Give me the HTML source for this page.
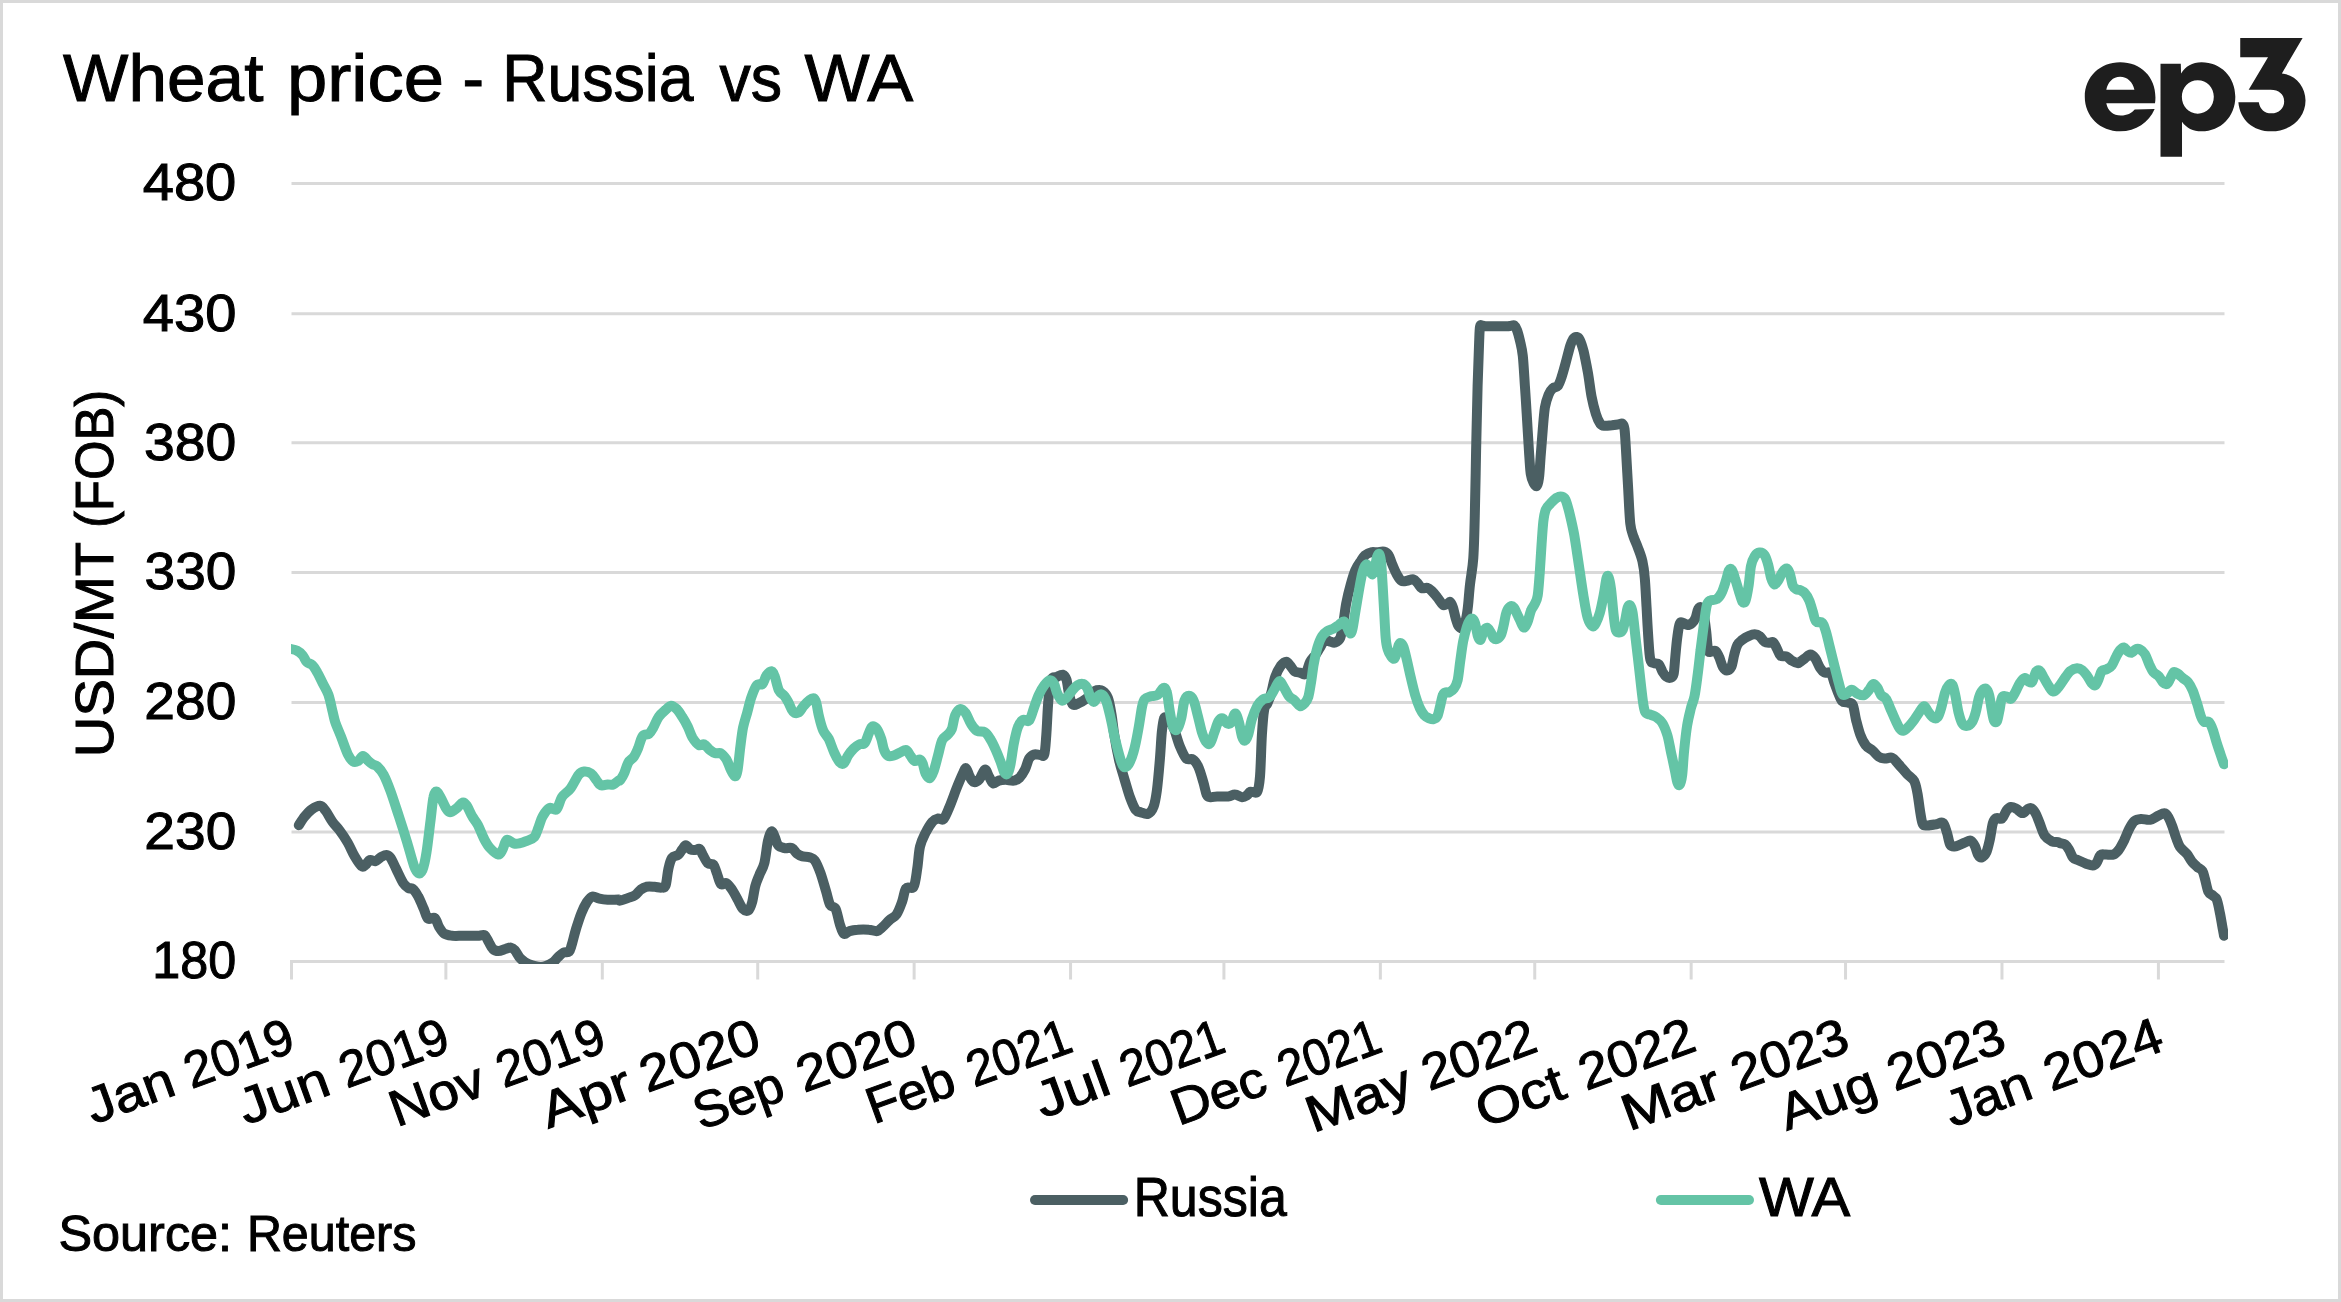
<!DOCTYPE html><html><head><meta charset="utf-8"><title>Wheat price - Russia vs WA</title>
<style>html,body{margin:0;padding:0;background:#fff}body{width:2341px;height:1302px}svg{display:block}text{font-family:"Liberation Sans",sans-serif;fill:#000;stroke:#000}</style></head><body>
<svg width="2341" height="1302" viewBox="0 0 2341 1302">
<rect x="0" y="0" width="2341" height="1302" fill="#fff"/>
<rect x="1.5" y="1.5" width="2338" height="1299" fill="none" stroke="#d9d9d9" stroke-width="3"/>
<line x1="291.5" y1="183.50" x2="2224.5" y2="183.50" stroke="#d9d9d9" stroke-width="3"/>
<line x1="291.5" y1="313.70" x2="2224.5" y2="313.70" stroke="#d9d9d9" stroke-width="3"/>
<line x1="291.5" y1="442.80" x2="2224.5" y2="442.80" stroke="#d9d9d9" stroke-width="3"/>
<line x1="291.5" y1="572.40" x2="2224.5" y2="572.40" stroke="#d9d9d9" stroke-width="3"/>
<line x1="291.5" y1="702.60" x2="2224.5" y2="702.60" stroke="#d9d9d9" stroke-width="3"/>
<line x1="291.5" y1="832.00" x2="2224.5" y2="832.00" stroke="#d9d9d9" stroke-width="3"/>
<line x1="290.0" y1="961.50" x2="2224.5" y2="961.50" stroke="#d9d9d9" stroke-width="3"/>
<line x1="291.50" y1="961.50" x2="291.50" y2="979.50" stroke="#d9d9d9" stroke-width="3"/>
<line x1="445.88" y1="961.50" x2="445.88" y2="979.50" stroke="#d9d9d9" stroke-width="3"/>
<line x1="602.31" y1="961.50" x2="602.31" y2="979.50" stroke="#d9d9d9" stroke-width="3"/>
<line x1="757.71" y1="961.50" x2="757.71" y2="979.50" stroke="#d9d9d9" stroke-width="3"/>
<line x1="914.14" y1="961.50" x2="914.14" y2="979.50" stroke="#d9d9d9" stroke-width="3"/>
<line x1="1070.57" y1="961.50" x2="1070.57" y2="979.50" stroke="#d9d9d9" stroke-width="3"/>
<line x1="1223.93" y1="961.50" x2="1223.93" y2="979.50" stroke="#d9d9d9" stroke-width="3"/>
<line x1="1380.35" y1="961.50" x2="1380.35" y2="979.50" stroke="#d9d9d9" stroke-width="3"/>
<line x1="1534.74" y1="961.50" x2="1534.74" y2="979.50" stroke="#d9d9d9" stroke-width="3"/>
<line x1="1691.16" y1="961.50" x2="1691.16" y2="979.50" stroke="#d9d9d9" stroke-width="3"/>
<line x1="1845.55" y1="961.50" x2="1845.55" y2="979.50" stroke="#d9d9d9" stroke-width="3"/>
<line x1="2001.97" y1="961.50" x2="2001.97" y2="979.50" stroke="#d9d9d9" stroke-width="3"/>
<line x1="2158.40" y1="961.50" x2="2158.40" y2="979.50" stroke="#d9d9d9" stroke-width="3"/>
<text transform="translate(142.70,200.30) scale(1.1000,1)" font-size="51" stroke-width="1.0" >480</text>
<text transform="translate(142.80,330.50) scale(1.1000,1)" font-size="51" stroke-width="1.0" >430</text>
<text transform="translate(144.12,459.60) scale(1.0843,1)" font-size="51" stroke-width="1.0" >380</text>
<text transform="translate(144.62,589.20) scale(1.0783,1)" font-size="51" stroke-width="1.0" >330</text>
<text transform="translate(144.34,719.40) scale(1.0817,1)" font-size="51" stroke-width="1.0" >280</text>
<text transform="translate(144.34,848.80) scale(1.0817,1)" font-size="51" stroke-width="1.0" >230</text>
<text transform="translate(152.34,978.30) scale(0.9864,1)" font-size="51" stroke-width="1.0" >180</text>
<text transform="translate(113.40,753.00) rotate(-90) translate(-4.14,0) scale(1.0360,1)" font-size="54.2" stroke-width="1.0" >USD/MT</text>
<text transform="translate(113.40,525.30) rotate(-90) translate(-2.82,0) scale(0.9387,1)" font-size="54.2" stroke-width="1.0" >(FOB)</text>
<text transform="translate(178.00,1093.81) rotate(-20) scale(1.0930,1)" font-size="51" stroke-width="1.0" text-anchor="end">Jan</text>
<text transform="translate(297.40,1050.35) rotate(-20) scale(0.9939,1)" font-size="51" stroke-width="1.0" text-anchor="end">2019</text>
<text transform="translate(333.00,1093.59) rotate(-20) scale(1.1288,1)" font-size="51" stroke-width="1.0" text-anchor="end">Jun</text>
<text transform="translate(452.60,1050.06) rotate(-20) scale(0.9936,1)" font-size="51" stroke-width="1.0" text-anchor="end">2019</text>
<text transform="translate(488.40,1093.96) rotate(-20) scale(1.0761,1)" font-size="51" stroke-width="1.0" text-anchor="end">Nov</text>
<text transform="translate(608.60,1050.21) rotate(-20) scale(0.9833,1)" font-size="51" stroke-width="1.0" text-anchor="end">2019</text>
<text transform="translate(635.20,1097.09) rotate(-20) scale(1.1648,1)" font-size="51" stroke-width="1.0" text-anchor="end">Apr</text>
<text transform="translate(763.60,1050.36) rotate(-20) scale(1.0906,1)" font-size="51" stroke-width="1.0" text-anchor="end">2020</text>
<text transform="translate(787.60,1098.56) rotate(-20) scale(1.0184,1)" font-size="51" stroke-width="1.0" text-anchor="end">Sep</text>
<text transform="translate(920.20,1050.30) rotate(-20) scale(1.0911,1)" font-size="51" stroke-width="1.0" text-anchor="end">2020</text>
<text transform="translate(958.80,1093.18) rotate(-20) scale(1.0310,1)" font-size="51" stroke-width="1.0" text-anchor="end">Feb</text>
<text transform="translate(1075.20,1050.82) rotate(-20) scale(0.9469,1)" font-size="51" stroke-width="1.0" text-anchor="end">2021</text>
<text transform="translate(1113.40,1092.73) rotate(-20) scale(1.1590,1)" font-size="51" stroke-width="1.0" text-anchor="end">Jul</text>
<text transform="translate(1228.00,1051.02) rotate(-20) scale(0.9429,1)" font-size="51" stroke-width="1.0" text-anchor="end">2021</text>
<text transform="translate(1270.00,1092.67) rotate(-20) scale(1.0748,1)" font-size="51" stroke-width="1.0" text-anchor="end">Dec</text>
<text transform="translate(1384.60,1050.96) rotate(-20) scale(0.9322,1)" font-size="51" stroke-width="1.0" text-anchor="end">2021</text>
<text transform="translate(1415.60,1095.86) rotate(-20) scale(1.1304,1)" font-size="51" stroke-width="1.0" text-anchor="end">May</text>
<text transform="translate(1540.00,1050.59) rotate(-20) scale(1.0402,1)" font-size="51" stroke-width="1.0" text-anchor="end">2022</text>
<text transform="translate(1568.80,1097.04) rotate(-20) scale(1.1466,1)" font-size="51" stroke-width="1.0" text-anchor="end">Oct</text>
<text transform="translate(1698.60,1049.80) rotate(-20) scale(1.0551,1)" font-size="51" stroke-width="1.0" text-anchor="end">2022</text>
<text transform="translate(1724.60,1096.52) rotate(-20) scale(1.1581,1)" font-size="51" stroke-width="1.0" text-anchor="end">Mar</text>
<text transform="translate(1852.20,1050.08) rotate(-20) scale(1.0651,1)" font-size="51" stroke-width="1.0" text-anchor="end">2023</text>
<text transform="translate(1880.20,1096.82) rotate(-20) scale(1.0961,1)" font-size="51" stroke-width="1.0" text-anchor="end">Aug</text>
<text transform="translate(2008.80,1050.02) rotate(-20) scale(1.0702,1)" font-size="51" stroke-width="1.0" text-anchor="end">2023</text>
<text transform="translate(2035.60,1097.20) rotate(-20) scale(1.0787,1)" font-size="51" stroke-width="1.0" text-anchor="end">Jan</text>
<text transform="translate(2166.40,1049.59) rotate(-20) scale(1.0800,1)" font-size="51" stroke-width="1.0" text-anchor="end">2024</text>
<clipPath id="cp"><rect x="291" y="100" width="1937" height="864.0"/></clipPath>
<g clip-path="url(#cp)" fill="none" stroke-width="10" stroke-linecap="round" stroke-linejoin="round">
<path d="M298.8,825.2C299.8,823.7 302.7,818.9 304.9,816.3C307.1,813.7 309.3,811.2 311.8,809.4C314.3,807.6 317.8,805.6 320.1,805.8C322.4,806.0 323.5,808.1 325.6,810.8C327.7,813.5 330.2,818.6 332.5,821.8C334.8,825.1 336.9,826.7 339.4,830.1C342.0,833.6 345.2,838.2 347.7,842.6C350.3,847.0 352.3,852.5 354.7,856.4C357.0,860.3 359.7,864.7 361.6,866.1C363.4,867.5 364.3,865.7 365.7,864.7C367.1,863.7 368.2,860.6 369.9,860.0C371.5,859.4 373.5,861.6 375.4,861.1C377.2,860.6 379.1,858.2 380.9,857.2C382.8,856.2 384.8,854.9 386.5,855.0C388.1,855.1 389.0,855.5 390.6,857.8C392.2,860.1 394.1,864.7 396.1,868.8C398.2,873.0 401.0,879.4 403.0,882.7C405.1,885.9 407.0,887.2 408.6,888.2C410.2,889.2 411.1,887.4 412.7,888.8C414.3,890.1 416.4,893.1 418.2,896.5C420.1,899.9 422.2,905.3 423.8,908.9C425.4,912.6 426.1,917.1 427.9,918.6C429.8,920.1 433.0,916.7 434.8,918.1C436.7,919.4 437.4,924.3 439.0,926.9C440.6,929.5 442.2,932.3 444.5,933.8C446.8,935.3 449.8,935.4 452.8,935.8C455.8,936.1 459.0,935.8 462.5,935.8C465.9,935.8 470.8,935.8 473.5,935.8C476.3,935.8 477.2,935.8 479.1,935.8C480.9,935.7 483.0,934.1 484.6,935.2C486.2,936.3 487.4,939.8 488.8,942.1C490.1,944.4 491.3,947.6 492.9,949.0C494.5,950.5 496.4,951.0 498.4,951.0C500.5,951.0 503.3,949.6 505.3,949.0C507.4,948.5 509.3,947.4 510.9,947.6C512.5,947.9 513.4,948.6 515.0,950.4C516.6,952.3 518.2,956.4 520.6,958.7C522.9,961.0 525.4,962.9 528.8,964.2C532.3,965.6 537.4,967.2 541.3,967.0C545.2,966.8 549.6,964.5 552.3,962.9C555.1,961.2 556.0,959.0 557.9,957.3C559.7,955.6 561.6,953.5 563.4,952.6C565.3,951.7 567.6,953.1 568.9,951.8C570.3,950.5 570.6,948.6 571.7,944.9C572.9,941.2 574.2,935.0 575.8,929.7C577.5,924.4 579.5,917.7 581.4,913.1C583.2,908.5 585.1,904.8 586.9,902.0C588.8,899.3 590.4,897.0 592.4,896.5C594.5,895.9 596.8,898.2 599.4,898.7C601.9,899.3 604.4,899.7 607.6,899.8C610.9,900.0 616.6,899.4 618.7,899.5C620.8,899.7 618.4,900.9 620.0,900.6C621.6,900.4 625.8,898.8 628.3,897.9C630.8,897.0 633.1,896.5 635.2,895.1C637.3,893.7 638.9,891.0 640.7,889.6C642.6,888.2 644.0,887.3 646.3,886.8C648.6,886.4 652.0,886.7 654.6,886.8C657.1,887.0 659.6,887.9 661.5,887.6C663.3,887.4 664.5,888.6 665.6,885.4C666.8,882.3 667.3,873.5 668.4,868.8C669.4,864.2 670.4,860.1 672.0,857.8C673.6,855.5 676.4,856.4 678.1,855.0C679.8,853.6 680.9,851.1 682.2,849.5C683.5,847.9 684.4,845.3 685.8,845.3C687.2,845.3 688.9,848.7 690.5,849.5C692.1,850.3 693.7,850.1 695.2,850.0C696.7,850.0 698.3,848.1 699.6,848.9C700.9,849.8 701.6,852.6 702.9,855.0C704.3,857.4 706.2,861.7 707.9,863.3C709.7,864.9 712.0,863.1 713.5,864.7C714.9,866.3 715.5,869.8 716.8,873.0C718.0,876.2 719.3,882.3 720.9,884.1C722.5,885.8 724.6,882.3 726.5,883.2C728.3,884.1 730.1,886.9 732.0,889.6C733.8,892.3 735.7,896.0 737.5,899.3C739.4,902.5 741.2,907.1 743.0,908.9C744.9,910.8 747.0,911.5 748.6,910.3C750.1,909.2 751.0,906.2 752.2,902.0C753.3,897.9 754.2,890.0 755.5,885.4C756.7,880.8 758.2,878.1 759.6,874.4C761.1,870.7 762.9,868.8 764.3,863.3C765.7,857.8 766.7,846.5 767.9,841.2C769.1,835.9 770.4,832.2 771.5,831.5C772.7,830.8 773.7,834.7 774.8,837.0C775.9,839.4 776.5,843.5 778.2,845.3C779.8,847.2 782.2,847.6 784.5,848.1C786.8,848.6 789.9,847.2 792.0,848.1C794.1,849.0 795.2,852.3 797.0,853.6C798.7,855.0 800.4,855.8 802.5,856.4C804.6,857.0 807.3,856.5 809.4,857.2C811.5,857.9 813.1,857.9 814.9,860.6C816.8,863.2 818.6,867.9 820.5,873.0C822.3,878.1 824.4,885.7 826.0,891.0C827.6,896.3 828.5,901.8 830.1,904.8C831.7,907.8 834.1,905.7 835.7,908.9C837.3,912.2 838.4,920.0 839.8,924.1C841.2,928.3 842.3,932.7 844.0,933.8C845.6,935.0 847.2,931.7 849.5,931.1C851.8,930.4 854.6,929.9 857.8,929.7C861.0,929.4 865.6,929.4 868.8,929.7C872.1,929.9 874.8,931.5 877.1,931.1C879.4,930.6 880.6,928.8 882.7,926.9C884.7,925.1 887.3,922.1 889.6,920.0C891.9,917.9 894.4,917.5 896.5,914.5C898.6,911.5 900.4,906.4 902.0,902.0C903.6,897.6 904.2,890.7 906.2,888.2C908.1,885.7 911.8,890.0 913.6,886.8C915.5,883.6 916.2,875.5 917.2,868.8C918.3,862.2 918.6,852.7 920.0,846.7C921.4,840.7 923.5,837.0 925.5,832.9C927.6,828.8 930.4,824.2 932.4,821.8C934.5,819.4 936.1,819.0 938.0,818.5C939.8,818.1 941.7,820.8 943.5,819.1C945.3,817.3 947.0,812.9 949.0,808.0C951.1,803.2 953.7,795.8 955.9,790.0C958.2,784.3 961.1,777.4 962.8,773.7C964.5,770.1 964.9,767.7 966.1,768.2C967.2,768.7 968.4,774.2 969.7,776.5C971.0,778.8 972.2,781.6 973.8,782.0C975.4,782.5 977.5,781.3 979.4,779.3C981.2,777.2 983.3,770.0 984.9,769.6C986.5,769.1 987.6,774.2 989.0,776.5C990.4,778.8 991.6,782.7 993.2,783.4C994.8,784.1 996.6,781.2 998.7,780.6C1000.8,780.0 1003.1,779.8 1005.6,779.8C1008.2,779.8 1011.6,781.0 1013.9,780.6C1016.2,780.3 1017.6,779.7 1019.4,777.9C1021.3,776.0 1023.4,772.8 1025.0,769.6C1026.6,766.4 1027.6,761.1 1029.1,758.5C1030.6,756.0 1032.3,755.0 1034.1,754.4C1035.9,753.8 1038.5,754.9 1040.2,754.9C1041.9,754.9 1043.3,757.7 1044.3,754.4C1045.3,751.1 1045.6,744.2 1046.3,735.0C1047.0,725.8 1047.6,708.3 1048.5,699.1C1049.3,689.9 1049.9,683.4 1051.2,679.7C1052.6,676.0 1054.8,677.8 1056.8,677.0C1058.7,676.1 1061.2,674.3 1062.9,674.7C1064.5,675.2 1065.4,676.4 1066.5,679.7C1067.5,683.1 1068.2,690.8 1069.2,694.9C1070.3,699.1 1071.2,703.2 1072.8,704.6C1074.4,706.0 1076.7,704.1 1078.9,703.2C1081.1,702.3 1083.7,700.7 1085.8,699.1C1087.9,697.5 1089.5,695.0 1091.3,693.5C1093.2,692.1 1095.0,690.7 1096.9,690.2C1098.7,689.8 1100.6,689.5 1102.4,690.8C1104.2,692.0 1106.4,693.8 1107.9,697.7C1109.4,701.6 1110.5,708.1 1111.5,714.3C1112.6,720.5 1113.0,727.4 1114.3,735.0C1115.5,742.6 1117.3,752.5 1119.0,759.9C1120.7,767.3 1122.7,773.0 1124.5,779.3C1126.4,785.5 1128.2,792.2 1130.0,797.2C1131.9,802.3 1133.7,807.1 1135.6,809.7C1137.4,812.2 1139.0,811.7 1141.1,812.4C1143.2,813.1 1145.9,814.7 1148.0,813.8C1150.1,812.9 1152.1,810.8 1153.5,806.9C1155.0,803.0 1155.9,797.7 1156.9,790.3C1157.9,782.9 1158.8,772.3 1159.6,762.7C1160.5,753.0 1161.1,739.6 1161.8,732.3C1162.6,724.9 1163.2,720.7 1164.1,718.4C1164.9,716.1 1165.8,718.0 1166.8,718.4C1167.8,718.9 1168.9,719.4 1170.1,721.2C1171.4,723.0 1172.7,725.3 1174.3,729.5C1175.9,733.6 1177.8,741.2 1179.8,746.1C1181.8,750.9 1184.0,756.3 1186.2,758.5C1188.3,760.7 1190.8,758.0 1192.8,759.4C1194.8,760.7 1196.6,763.0 1198.3,766.8C1200.1,770.6 1201.9,777.4 1203.3,782.0C1204.7,786.6 1205.5,791.9 1206.6,794.5C1207.8,797.0 1208.5,796.9 1210.2,797.2C1212.0,797.6 1214.1,796.5 1217.1,796.4C1220.1,796.3 1225.2,796.7 1228.2,796.4C1231.2,796.1 1232.8,794.3 1235.1,794.5C1237.4,794.6 1240.0,797.1 1242.0,797.2C1244.0,797.4 1245.6,796.2 1247.0,795.3C1248.4,794.4 1248.6,792.3 1250.3,791.7C1252.0,791.1 1255.6,794.2 1257.2,791.7C1258.8,789.2 1259.2,785.9 1260.0,776.5C1260.8,767.0 1261.2,746.1 1261.9,735.0C1262.6,724.0 1263.2,715.4 1264.1,710.1C1265.1,704.8 1266.3,706.0 1267.5,703.2C1268.6,700.5 1269.8,697.9 1271.1,693.5C1272.3,689.2 1273.6,681.6 1275.2,677.0C1276.8,672.3 1278.9,668.4 1280.7,665.9C1282.6,663.4 1284.7,661.7 1286.3,661.7C1287.9,661.7 1289.0,664.3 1290.4,665.9C1291.8,667.5 1293.0,670.3 1294.6,671.4C1296.2,672.5 1298.2,672.2 1300.0,672.6C1301.8,673.0 1303.8,675.7 1305.5,673.9C1307.2,672.1 1308.4,665.2 1310.1,661.9C1311.8,658.7 1314.0,657.0 1315.7,654.6C1317.4,652.1 1318.7,649.6 1320.3,647.2C1321.8,644.7 1323.2,640.7 1324.9,639.8C1326.6,638.9 1328.7,641.2 1330.4,641.7C1332.1,642.1 1333.4,643.2 1335.0,642.6C1336.7,642.0 1338.8,641.2 1340.2,638.0C1341.6,634.7 1342.3,629.1 1343.3,623.2C1344.3,617.4 1345.0,609.4 1346.3,602.9C1347.5,596.5 1349.2,589.9 1350.7,584.5C1352.2,579.1 1353.5,574.5 1355.1,570.7C1356.7,566.9 1358.7,564.1 1360.5,561.5C1362.2,558.9 1363.7,556.6 1365.4,555.0C1367.2,553.5 1369.0,552.7 1371.0,552.3C1373.0,551.8 1375.3,552.4 1377.4,552.3C1379.6,552.2 1382.0,551.2 1383.9,551.7C1385.7,552.2 1387.1,552.9 1388.5,555.0C1389.9,557.1 1390.8,561.0 1392.2,564.2C1393.5,567.5 1395.2,571.6 1396.8,574.4C1398.3,577.1 1399.7,579.8 1401.4,580.8C1403.1,581.9 1404.9,581.1 1406.9,580.8C1408.9,580.6 1411.5,578.9 1413.4,579.4C1415.2,579.8 1416.6,582.1 1418.0,583.6C1419.4,585.1 1420.1,587.5 1421.7,588.2C1423.2,588.9 1425.5,587.4 1427.2,587.8C1428.9,588.3 1430.1,589.4 1431.8,591.0C1433.5,592.6 1435.5,595.1 1437.3,597.4C1439.2,599.7 1441.2,603.7 1442.9,604.8C1444.5,605.9 1446.2,604.3 1447.5,603.9C1448.7,603.4 1449.3,601.4 1450.2,602.0C1451.2,602.6 1452.1,604.8 1453.0,607.6C1453.9,610.3 1454.8,615.5 1455.8,618.6C1456.7,621.7 1457.5,624.5 1458.5,626.0C1459.6,627.5 1461.1,628.3 1462.2,627.8C1463.3,627.4 1464.1,626.5 1465.0,623.2C1465.9,620.0 1466.9,614.9 1467.7,608.5C1468.6,602.0 1469.0,592.9 1470.0,584.5C1470.9,576.1 1472.5,569.6 1473.3,558.1C1474.1,546.5 1474.4,533.0 1474.8,515.1C1475.3,497.1 1475.7,472.0 1476.1,450.5C1476.6,429.0 1477.1,403.9 1477.6,386.0C1478.1,368.1 1478.7,352.9 1479.1,343.0C1479.5,333.2 1479.5,329.8 1480.0,326.9C1480.5,323.9 1480.9,325.5 1481.9,325.4C1483.0,325.3 1483.9,326.1 1486.2,326.2C1488.6,326.4 1492.5,326.2 1495.9,326.2C1499.3,326.2 1504.2,326.3 1506.7,326.2C1509.2,326.2 1509.7,325.9 1511.0,325.8C1512.2,325.7 1513.2,324.7 1514.2,325.4C1515.2,326.1 1516.0,327.5 1517.0,330.1C1518.0,332.7 1519.0,336.6 1520.0,340.9C1521.0,345.2 1522.0,348.4 1522.8,355.9C1523.6,363.4 1524.2,375.3 1524.9,386.0C1525.7,396.8 1526.4,409.0 1527.1,420.4C1527.8,431.9 1528.6,445.9 1529.2,454.8C1529.9,463.8 1530.0,469.5 1530.8,474.2C1531.5,478.9 1532.5,480.8 1533.5,482.8C1534.6,484.8 1535.9,486.7 1536.8,486.0C1537.7,485.3 1538.3,483.3 1538.9,478.5C1539.6,473.7 1540.0,465.2 1540.6,457.0C1541.3,448.7 1542.1,437.3 1542.8,429.0C1543.5,420.8 1544.0,413.3 1544.9,407.5C1545.9,401.8 1547.3,397.8 1548.6,394.6C1549.9,391.4 1551.4,389.6 1552.9,388.2C1554.4,386.7 1556.4,387.8 1557.8,386.0C1559.3,384.2 1560.2,381.4 1561.5,377.4C1562.8,373.5 1564.4,367.6 1565.8,362.4C1567.2,357.2 1568.9,350.2 1570.1,346.2C1571.4,342.3 1572.3,340.3 1573.3,338.7C1574.4,337.2 1575.5,336.8 1576.6,337.0C1577.6,337.2 1578.6,337.3 1579.8,339.8C1581.0,342.2 1582.3,346.1 1583.7,351.6C1585.0,357.2 1586.6,365.6 1588.0,373.1C1589.3,380.6 1590.3,390.0 1591.6,396.8C1592.9,403.6 1594.5,409.5 1595.9,414.0C1597.3,418.5 1598.8,421.7 1600.2,423.7C1601.6,425.6 1602.5,425.6 1604.5,425.8C1606.5,426.1 1609.7,425.4 1612.0,425.2C1614.4,424.9 1616.8,424.6 1618.5,424.3C1620.2,424.1 1621.4,422.9 1622.4,423.7C1623.4,424.4 1623.9,424.6 1624.5,429.0C1625.1,433.5 1625.4,440.5 1626.0,450.5C1626.6,460.6 1627.5,477.1 1628.2,489.2C1628.9,501.4 1629.4,515.8 1630.3,523.7C1631.2,531.5 1632.3,532.6 1633.5,536.6C1634.8,540.5 1636.4,543.2 1637.8,547.3C1639.3,551.4 1641.2,555.9 1642.4,561.1C1643.6,566.3 1644.2,570.5 1644.8,578.3C1645.5,586.1 1646.0,598.0 1646.6,607.8C1647.1,617.6 1647.7,628.7 1648.3,637.3C1648.9,645.9 1649.3,655.1 1650.3,659.4C1651.2,663.7 1652.5,662.3 1653.9,663.1C1655.4,663.9 1657.4,662.9 1658.9,664.3C1660.3,665.8 1661.3,669.6 1662.5,671.7C1663.8,673.7 1664.9,675.6 1666.2,676.6C1667.5,677.6 1669.2,678.2 1670.4,677.8C1671.6,677.4 1672.8,677.6 1673.6,674.2C1674.4,670.7 1674.7,663.1 1675.3,656.9C1675.9,650.8 1676.5,642.8 1677.3,637.3C1678.0,631.8 1678.7,626.1 1679.7,623.8C1680.8,621.4 1682.2,622.8 1683.4,623.0C1684.7,623.2 1685.7,625.0 1687.1,625.0C1688.6,625.0 1690.6,624.3 1692.0,623.0C1693.5,621.8 1694.7,620.0 1695.7,617.6C1696.7,615.3 1697.2,610.7 1698.2,609.0C1699.1,607.4 1700.3,606.4 1701.4,607.8C1702.4,609.2 1703.5,613.5 1704.3,617.6C1705.1,621.7 1705.7,627.0 1706.3,632.4C1706.9,637.7 1707.3,646.3 1708.0,649.6C1708.7,652.9 1709.2,651.8 1710.5,652.0C1711.7,652.2 1713.9,650.0 1715.4,650.8C1716.8,651.6 1717.8,654.3 1719.1,656.9C1720.3,659.6 1721.4,664.5 1722.8,666.8C1724.1,669.0 1725.5,670.5 1726.9,670.5C1728.4,670.5 1730.1,669.4 1731.4,666.8C1732.6,664.1 1733.3,658.2 1734.3,654.5C1735.3,650.8 1736.1,647.1 1737.5,644.7C1738.8,642.2 1740.6,641.2 1742.4,639.7C1744.3,638.3 1746.5,637.0 1748.6,636.1C1750.6,635.2 1752.9,634.3 1754.7,634.3C1756.5,634.3 1758.0,634.8 1759.6,636.1C1761.3,637.3 1762.9,640.6 1764.5,641.7C1766.2,642.8 1768.0,642.6 1769.4,642.7C1770.9,642.8 1771.9,641.3 1773.1,642.2C1774.4,643.1 1775.6,646.1 1776.8,648.3C1778.0,650.6 1778.9,654.4 1780.5,655.7C1782.1,657.1 1784.8,655.6 1786.7,656.5C1788.5,657.3 1789.7,659.5 1791.6,660.6C1793.4,661.7 1796.3,662.9 1797.7,663.1C1799.1,663.3 1798.8,662.8 1800.0,662.0C1801.2,661.2 1803.2,659.5 1804.9,658.3C1806.6,657.1 1808.6,654.6 1810.3,654.6C1812.0,654.6 1813.6,656.1 1815.2,658.3C1816.9,660.6 1818.6,665.8 1820.2,668.1C1821.7,670.5 1822.8,671.7 1824.6,672.6C1826.3,673.4 1829.1,671.3 1830.7,673.0C1832.4,674.8 1833.2,679.6 1834.4,682.9C1835.6,686.2 1836.8,689.6 1838.1,692.7C1839.4,695.8 1840.6,699.7 1842.3,701.3C1843.9,703.0 1846.2,701.9 1847.9,702.5C1849.7,703.2 1851.5,702.1 1852.8,705.0C1854.2,707.9 1854.8,714.8 1856.0,719.7C1857.3,724.7 1858.6,730.2 1860.2,734.5C1861.8,738.8 1863.8,742.9 1865.9,745.5C1867.9,748.2 1870.4,748.6 1872.5,750.5C1874.6,752.3 1876.6,755.3 1878.6,756.6C1880.7,758.0 1882.5,758.4 1884.8,758.6C1887.0,758.8 1889.9,756.9 1892.2,757.8C1894.4,758.7 1895.8,761.3 1898.3,764.0C1900.8,766.6 1904.2,770.9 1906.9,773.8C1909.6,776.7 1912.5,777.9 1914.3,781.2C1916.0,784.5 1916.4,788.1 1917.5,793.5C1918.5,798.8 1919.5,808.0 1920.4,813.1C1921.3,818.3 1921.7,822.1 1922.9,824.2C1924.1,826.2 1925.5,825.4 1927.8,825.4C1930.0,825.4 1933.9,824.6 1936.4,824.2C1938.9,823.8 1941.3,821.5 1943.0,823.0C1944.8,824.4 1945.7,829.1 1947.0,832.8C1948.2,836.5 1948.9,842.8 1950.4,845.1C1951.9,847.3 1953.7,846.7 1956.1,846.3C1958.4,845.9 1962.2,843.6 1964.7,842.6C1967.1,841.7 1969.1,840.0 1970.8,840.7C1972.5,841.3 1973.8,843.9 1975.0,846.3C1976.2,848.7 1977.0,853.1 1978.2,854.9C1979.3,856.8 1980.5,857.8 1981.9,857.4C1983.2,857.0 1985.0,855.3 1986.3,852.5C1987.6,849.6 1988.6,845.1 1989.7,840.2C1990.8,835.3 1991.8,826.7 1992.9,823.0C1994.1,819.3 1995.1,818.8 1996.6,818.0C1998.1,817.3 2000.4,819.8 2002.0,818.5C2003.7,817.3 2005.0,812.6 2006.4,810.7C2007.9,808.8 2009.2,807.3 2010.9,807.0C2012.5,806.7 2014.3,807.7 2016.3,808.7C2018.2,809.7 2020.6,813.0 2022.4,813.1C2024.3,813.3 2025.9,810.3 2027.3,809.4C2028.8,808.6 2029.7,807.6 2031.0,808.2C2032.4,808.8 2034.0,810.7 2035.4,813.1C2036.9,815.6 2038.1,819.3 2039.6,823.0C2041.1,826.7 2042.5,832.2 2044.5,835.3C2046.6,838.3 2049.7,840.2 2051.9,841.4C2054.2,842.5 2056.7,841.8 2058.0,842.1C2059.4,842.4 2058.8,842.9 2060.0,843.3C2061.2,843.7 2063.7,843.5 2065.2,844.6C2066.7,845.7 2067.8,847.6 2069.1,849.8C2070.4,852.0 2071.5,855.9 2073.1,857.7C2074.6,859.4 2076.1,859.3 2078.3,860.3C2080.5,861.3 2083.7,862.8 2086.1,863.7C2088.5,864.5 2090.9,865.6 2092.6,865.5C2094.4,865.4 2095.3,864.6 2096.6,862.9C2097.9,861.1 2099.0,856.4 2100.5,855.0C2102.0,853.7 2103.5,854.6 2105.7,854.5C2107.9,854.4 2111.4,855.3 2113.5,854.5C2115.7,853.7 2117.0,852.1 2118.8,849.8C2120.5,847.5 2122.2,844.2 2124.0,840.7C2125.7,837.2 2127.5,832.2 2129.2,828.9C2130.9,825.7 2132.5,822.8 2134.4,821.1C2136.4,819.4 2138.3,819.2 2141.0,819.0C2143.6,818.8 2147.3,820.3 2150.1,819.8C2152.9,819.3 2155.5,817.0 2157.9,815.9C2160.3,814.8 2162.7,813.0 2164.5,813.3C2166.2,813.5 2167.1,815.0 2168.4,817.2C2169.7,819.4 2171.0,822.8 2172.3,826.3C2173.6,829.8 2174.9,834.6 2176.2,838.1C2177.5,841.6 2178.4,844.6 2180.1,847.2C2181.9,849.8 2184.7,851.3 2186.7,853.7C2188.6,856.1 2190.1,859.4 2191.9,861.6C2193.6,863.8 2195.4,865.3 2197.1,866.8C2198.9,868.3 2201.0,868.8 2202.3,870.7C2203.6,872.7 2203.9,875.1 2204.9,878.6C2205.9,882.0 2207.0,888.8 2208.3,891.6C2209.6,894.4 2211.4,894.2 2212.8,895.5C2214.2,896.8 2215.5,896.6 2216.7,899.4C2217.9,902.3 2218.9,907.9 2219.8,912.5C2220.8,917.1 2221.7,923.0 2222.4,926.9C2223.1,930.7 2223.8,934.3 2224.0,935.7" stroke="#4b5f63"/>
<path d="M290.0,648.8C291.2,649.1 295.0,649.6 297.1,650.7C299.3,651.8 301.1,653.5 302.7,655.4C304.3,657.3 305.2,660.4 306.8,662.0C308.4,663.6 310.6,663.3 312.3,665.1C314.1,666.8 315.6,669.4 317.3,672.5C319.1,675.6 321.0,679.9 322.9,683.6C324.7,687.3 326.8,690.0 328.4,694.7C330.0,699.3 331.4,706.6 332.5,711.2C333.7,715.9 333.9,718.2 335.3,722.3C336.7,726.5 338.8,730.8 340.8,736.1C342.9,741.4 345.7,749.9 347.7,754.1C349.8,758.3 351.5,760.4 353.3,761.6C355.0,762.7 356.6,761.9 358.2,761.0C359.9,760.1 361.2,756.0 362.9,756.0C364.7,756.0 366.9,759.6 368.5,761.0C370.1,762.4 371.2,763.4 372.6,764.3C374.1,765.3 375.5,764.8 377.3,766.5C379.2,768.3 381.5,770.7 383.7,774.8C385.9,779.0 388.1,784.5 390.6,791.4C393.1,798.3 396.1,807.8 398.9,816.3C401.7,824.8 404.7,834.3 407.2,842.6C409.7,850.9 412.3,861.0 414.1,866.1C415.9,871.1 416.9,872.3 418.2,873.0C419.6,873.7 421.0,873.7 422.4,870.2C423.8,866.8 425.2,860.8 426.5,852.3C427.9,843.7 429.5,828.3 430.7,819.1C431.8,809.9 432.5,801.6 433.5,797.0C434.4,792.3 435.1,791.4 436.2,791.4C437.4,791.4 438.8,794.2 440.4,797.0C442.0,799.7 444.3,805.5 445.9,808.0C447.5,810.6 448.2,812.2 450.0,812.2C451.9,812.2 454.9,809.6 457.0,808.0C459.0,806.4 460.9,802.9 462.5,802.5C464.1,802.0 465.0,802.9 466.6,805.3C468.2,807.6 470.3,813.1 472.2,816.3C474.0,819.5 475.6,820.7 477.7,824.6C479.8,828.5 482.5,835.9 484.6,839.8C486.7,843.7 487.8,845.7 490.1,848.1C492.4,850.6 496.4,854.2 498.4,854.5C500.5,854.7 501.2,851.9 502.6,849.5C504.0,847.0 504.9,840.8 506.7,839.8C508.6,838.8 511.6,842.8 513.6,843.4C515.7,844.0 517.1,843.8 519.2,843.4C521.2,843.0 523.5,842.3 526.1,841.2C528.6,840.1 532.3,839.4 534.4,837.0C536.4,834.7 537.1,830.8 538.5,827.4C539.9,823.9 540.8,819.5 542.7,816.3C544.5,813.1 547.3,809.2 549.6,808.0C551.9,806.9 554.4,811.2 556.5,809.4C558.6,807.6 559.7,800.4 562.0,797.0C564.3,793.5 567.6,792.3 570.3,788.7C573.1,785.0 576.3,777.7 578.6,774.8C580.9,772.0 582.1,771.7 584.1,771.5C586.2,771.3 589.0,772.0 591.1,773.5C593.1,774.9 595.0,778.4 596.6,780.4C598.2,782.3 598.9,784.7 600.7,785.3C602.6,786.0 605.6,784.7 607.6,784.5C609.7,784.4 611.3,785.2 613.2,784.5C615.0,783.8 617.6,781.1 618.7,780.4C619.8,779.7 619.1,781.5 620.0,780.4C620.9,779.2 622.8,776.5 624.1,773.5C625.5,770.5 626.7,765.2 628.3,762.4C629.9,759.6 632.2,759.2 633.8,756.9C635.4,754.6 636.5,752.0 638.0,748.6C639.4,745.1 640.8,738.6 642.7,736.1C644.5,733.7 647.3,735.3 649.0,733.9C650.8,732.5 651.6,730.7 653.2,727.8C654.8,725.0 656.6,719.8 658.7,716.8C660.8,713.8 663.5,711.7 665.6,709.9C667.7,708.0 669.3,705.9 671.2,705.7C673.0,705.6 674.8,707.2 676.7,709.0C678.5,710.9 680.4,713.9 682.2,716.8C684.1,719.7 686.0,723.0 687.7,726.5C689.4,729.9 690.6,734.4 692.4,737.5C694.3,740.6 696.8,743.8 698.8,745.0C700.8,746.1 702.5,743.6 704.3,744.4C706.2,745.3 708.0,748.5 709.9,750.0C711.7,751.4 713.5,752.7 715.4,753.3C717.2,753.8 719.1,752.2 720.9,753.3C722.8,754.3 724.8,757.0 726.5,759.6C728.1,762.3 729.2,766.5 730.6,769.3C732.0,772.1 733.6,776.0 734.7,776.2C735.9,776.5 736.6,775.5 737.5,770.7C738.4,765.9 739.4,754.3 740.3,747.2C741.2,740.0 741.9,733.6 743.0,727.8C744.2,722.1 745.8,717.7 747.2,712.6C748.6,707.6 749.7,702.0 751.3,697.4C752.9,692.8 755.0,687.2 756.9,685.0C758.7,682.8 760.8,685.8 762.4,684.1C764.0,682.5 765.0,677.5 766.5,675.3C768.1,673.1 770.1,670.9 771.5,671.2C772.9,671.4 773.6,673.5 774.8,676.7C776.1,679.9 777.4,687.3 779.0,690.5C780.6,693.7 782.9,694.0 784.5,696.0C786.1,698.1 787.3,700.4 788.7,702.9C790.0,705.5 791.2,709.6 792.8,711.2C794.4,712.9 796.5,713.5 798.3,712.6C800.2,711.7 802.0,707.8 803.9,705.7C805.7,703.6 807.8,701.4 809.4,700.2C811.0,698.9 812.4,697.8 813.5,698.2C814.7,698.7 815.4,699.9 816.3,702.9C817.2,706.0 817.9,712.2 819.1,716.8C820.2,721.4 821.6,726.9 823.2,730.6C824.8,734.3 826.9,735.2 828.8,738.9C830.6,742.6 832.4,748.8 834.3,752.7C836.1,756.6 838.2,760.6 839.8,762.4C841.4,764.1 842.6,764.4 844.0,763.2C845.3,762.1 846.5,757.9 848.1,755.5C849.7,753.0 851.8,750.4 853.6,748.6C855.5,746.7 857.3,745.3 859.2,744.4C861.0,743.5 863.1,744.9 864.7,743.0C866.3,741.2 867.6,736.1 868.8,733.4C870.1,730.6 870.8,727.1 872.2,726.5C873.5,725.8 875.6,727.1 877.1,729.2C878.7,731.3 880.1,735.4 881.3,738.9C882.4,742.3 882.9,747.1 884.1,750.0C885.2,752.8 886.6,755.1 888.2,756.0C889.8,757.0 891.7,756.1 893.7,755.5C895.8,754.8 898.6,753.1 900.6,752.2C902.7,751.2 904.6,749.4 906.2,750.0C907.8,750.5 908.9,753.6 910.3,755.5C911.7,757.3 912.9,760.3 914.5,761.0C916.1,761.7 918.6,759.2 920.0,759.6C921.4,760.1 921.8,761.5 922.8,763.8C923.7,766.1 924.4,771.1 925.5,773.5C926.7,775.9 928.3,778.6 929.7,778.2C931.1,777.7 932.4,774.5 933.8,770.7C935.2,766.9 936.6,760.6 938.0,755.5C939.4,750.4 940.5,743.7 942.1,740.3C943.7,736.8 946.0,736.6 947.6,734.7C949.3,732.9 950.5,732.4 951.8,729.2C953.0,726.0 953.7,718.8 955.1,715.4C956.5,712.0 958.4,709.4 960.1,709.0C961.8,708.6 963.7,710.4 965.5,712.9C967.4,715.4 969.1,721.0 971.1,724.0C973.0,727.0 974.8,729.5 977.1,730.9C979.4,732.3 982.7,730.9 984.9,732.3C987.1,733.6 988.6,736.2 990.4,739.2C992.3,742.2 994.2,746.3 995.9,750.2C997.7,754.1 999.5,759.0 1000.9,762.7C1002.3,766.4 1003.1,770.5 1004.2,772.3C1005.3,774.2 1006.5,774.9 1007.6,773.7C1008.6,772.6 1009.3,770.5 1010.3,765.4C1011.4,760.4 1012.6,749.8 1013.9,743.3C1015.2,736.9 1016.5,730.6 1018.1,726.7C1019.6,722.8 1021.2,720.8 1023.0,719.8C1024.9,718.8 1027.3,722.7 1029.1,720.6C1031.0,718.6 1032.5,711.7 1034.1,707.4C1035.7,703.1 1037.1,698.6 1038.8,694.9C1040.5,691.2 1042.5,687.7 1044.3,685.3C1046.2,682.8 1048.2,680.5 1049.9,680.3C1051.5,680.0 1052.8,681.7 1054.0,683.9C1055.3,686.1 1056.0,690.8 1057.3,693.5C1058.6,696.3 1060.2,699.8 1061.8,700.5C1063.3,701.2 1064.7,699.3 1066.5,697.7C1068.2,696.1 1070.1,692.9 1072.0,690.8C1073.8,688.7 1075.7,686.4 1077.5,685.3C1079.4,684.1 1081.4,683.4 1083.0,683.9C1084.7,684.3 1085.9,685.7 1087.2,688.0C1088.4,690.3 1089.4,695.4 1090.5,697.7C1091.7,700.0 1092.8,702.2 1094.1,701.8C1095.4,701.5 1096.9,696.9 1098.2,695.8C1099.6,694.6 1101.0,693.9 1102.4,694.9C1103.8,695.9 1105.2,697.9 1106.5,701.8C1107.9,705.8 1109.3,712.4 1110.7,718.4C1112.1,724.4 1113.3,731.3 1114.8,737.8C1116.4,744.2 1118.3,752.3 1119.8,757.1C1121.3,762.0 1122.2,765.7 1123.7,766.8C1125.2,768.0 1127.0,766.6 1128.7,764.1C1130.3,761.5 1132.0,757.4 1133.6,751.6C1135.3,745.9 1137.0,736.9 1138.3,729.5C1139.7,722.1 1140.9,712.4 1141.9,707.4C1143.0,702.3 1143.2,700.9 1144.7,699.1C1146.2,697.2 1148.6,697.0 1150.8,696.3C1152.9,695.6 1155.6,696.3 1157.7,694.9C1159.8,693.5 1161.7,688.5 1163.2,688.0C1164.7,687.6 1165.8,688.5 1166.8,692.2C1167.9,695.9 1168.6,704.4 1169.6,710.1C1170.6,715.9 1171.7,723.5 1172.9,726.7C1174.1,730.0 1175.7,730.9 1177.0,729.5C1178.4,728.1 1180.0,723.3 1181.2,718.4C1182.4,713.6 1183.2,704.2 1184.5,700.5C1185.8,696.7 1187.4,695.8 1188.9,695.8C1190.5,695.8 1192.2,697.1 1193.6,700.5C1195.1,703.8 1196.4,710.4 1197.8,715.7C1199.2,721.0 1200.6,727.9 1201.9,732.3C1203.3,736.6 1204.7,740.1 1206.1,741.9C1207.5,743.8 1208.8,744.9 1210.2,743.3C1211.6,741.7 1213.0,735.9 1214.4,732.3C1215.8,728.6 1217.1,723.5 1218.5,721.2C1219.9,718.9 1221.3,718.1 1222.7,718.4C1224.1,718.8 1225.4,722.7 1226.8,723.4C1228.2,724.1 1229.6,724.2 1231.0,722.6C1232.3,720.9 1233.8,713.7 1235.1,713.5C1236.4,713.2 1237.6,717.4 1238.7,721.2C1239.9,725.0 1241.0,733.2 1242.0,736.4C1243.0,739.6 1243.8,740.8 1244.8,740.6C1245.8,740.3 1247.0,738.5 1248.1,735.0C1249.3,731.6 1250.2,724.7 1251.7,719.8C1253.2,715.0 1255.4,709.4 1257.2,706.0C1259.1,702.6 1260.7,701.2 1262.8,699.6C1264.8,698.1 1267.6,698.8 1269.7,696.9C1271.7,694.9 1273.6,690.6 1275.2,688.0C1276.8,685.4 1278.0,681.3 1279.4,681.1C1280.7,680.9 1281.9,684.1 1283.5,686.6C1285.1,689.2 1287.2,694.0 1289.0,696.3C1290.9,698.6 1292.7,698.8 1294.6,700.5C1296.4,702.1 1298.3,705.7 1300.0,706.2C1301.7,706.7 1303.2,704.9 1304.6,703.4C1306.0,701.9 1307.2,700.5 1308.3,697.0C1309.4,693.4 1310.1,687.7 1311.1,682.2C1312.0,676.7 1312.7,669.6 1313.8,663.8C1314.9,657.9 1316.1,651.8 1317.5,647.2C1318.9,642.6 1320.4,638.8 1322.1,636.1C1323.8,633.4 1325.8,632.2 1327.6,631.0C1329.5,629.7 1331.3,629.7 1333.2,628.8C1335.0,627.8 1336.9,626.3 1338.7,625.1C1340.5,623.8 1342.5,621.1 1343.9,621.4C1345.3,621.7 1346.0,624.9 1347.0,626.9C1348.0,628.9 1349.2,633.1 1350.1,633.4C1351.1,633.7 1351.7,632.3 1352.5,628.8C1353.4,625.2 1354.2,618.6 1355.3,612.2C1356.4,605.7 1357.8,596.8 1359.0,590.0C1360.2,583.3 1361.4,575.9 1362.7,571.6C1363.9,567.3 1365.3,564.5 1366.4,564.2C1367.4,563.9 1368.1,568.1 1369.1,569.8C1370.1,571.5 1371.3,574.7 1372.3,574.4C1373.2,574.1 1373.9,570.8 1374.7,567.9C1375.5,565.0 1376.3,559.2 1377.1,556.9C1377.8,554.6 1378.6,553.2 1379.3,554.1C1379.9,555.0 1380.6,557.3 1381.1,562.4C1381.7,567.5 1382.0,575.6 1382.6,584.5C1383.1,593.4 1383.9,606.9 1384.4,615.9C1384.9,624.8 1385.2,632.4 1385.7,638.0C1386.2,643.5 1386.6,646.0 1387.6,649.0C1388.5,652.1 1390.1,654.8 1391.2,656.4C1392.4,658.0 1393.5,659.2 1394.4,658.6C1395.3,658.0 1396.1,654.9 1396.8,652.7C1397.5,650.5 1397.9,646.9 1398.6,645.3C1399.3,643.7 1400.2,642.8 1401.0,643.1C1401.8,643.4 1402.6,644.4 1403.6,647.2C1404.6,650.0 1405.7,655.2 1406.9,660.1C1408.1,665.0 1409.2,670.8 1410.6,676.7C1412.0,682.5 1413.7,689.9 1415.2,695.1C1416.7,700.3 1418.3,704.6 1419.8,708.0C1421.4,711.4 1422.9,713.7 1424.4,715.4C1426.0,717.1 1427.5,717.5 1429.0,718.2C1430.6,718.8 1432.3,719.4 1433.6,719.1C1435.0,718.8 1436.3,718.5 1437.3,716.3C1438.4,714.2 1439.2,709.7 1440.1,706.2C1441.0,702.6 1441.9,697.4 1442.9,695.1C1443.8,692.8 1444.5,692.8 1445.6,692.4C1446.7,691.9 1447.9,693.0 1449.3,692.4C1450.7,691.7 1452.5,690.7 1453.9,688.7C1455.3,686.7 1456.5,685.1 1457.6,680.4C1458.7,675.6 1459.4,666.5 1460.4,660.1C1461.3,653.6 1462.1,647.2 1463.1,641.7C1464.2,636.1 1465.7,630.4 1466.8,626.9C1467.9,623.4 1468.7,621.8 1469.6,620.5C1470.5,619.1 1471.4,618.2 1472.4,618.6C1473.3,619.1 1474.2,620.3 1475.1,623.2C1476.0,626.1 1477.0,633.4 1477.9,636.1C1478.8,638.9 1479.7,640.6 1480.6,639.8C1481.6,639.0 1482.3,633.5 1483.4,631.5C1484.5,629.5 1485.9,627.7 1487.1,627.8C1488.3,628.0 1489.7,630.8 1490.8,632.4C1491.9,634.1 1492.5,636.9 1493.5,638.0C1494.6,639.0 1496.0,639.4 1497.2,638.9C1498.5,638.4 1499.8,637.5 1500.9,635.2C1502.0,632.9 1502.8,628.9 1503.7,625.1C1504.6,621.2 1505.4,615.2 1506.5,612.2C1507.5,609.1 1508.9,607.4 1510.1,606.6C1511.4,605.9 1512.6,606.2 1513.8,607.6C1515.1,608.9 1516.5,612.8 1517.5,614.9C1518.5,617.0 1519.0,618.0 1520.0,620.1C1521.0,622.2 1522.5,627.0 1523.7,627.5C1524.9,627.9 1526.1,625.4 1527.4,622.5C1528.6,619.7 1529.8,613.3 1531.1,610.3C1532.3,607.2 1533.6,606.6 1534.7,604.1C1535.9,601.7 1536.9,600.6 1537.7,595.5C1538.5,590.4 1539.0,582.0 1539.7,573.4C1540.3,564.8 1541.0,552.5 1541.6,543.9C1542.2,535.3 1542.7,527.5 1543.3,521.8C1544.0,516.0 1544.6,512.6 1545.8,509.5C1547.0,506.4 1548.9,505.3 1550.7,503.3C1552.6,501.4 1555.0,498.8 1556.9,497.7C1558.7,496.6 1560.3,496.4 1561.8,496.7C1563.2,497.0 1564.2,497.1 1565.5,499.7C1566.7,502.2 1567.7,506.2 1569.2,511.9C1570.6,517.7 1572.4,525.1 1574.1,534.1C1575.7,543.1 1577.4,555.8 1579.0,566.0C1580.5,576.3 1582.0,586.9 1583.4,595.5C1584.8,604.1 1586.1,612.5 1587.6,617.6C1589.1,622.7 1591.1,625.4 1592.5,626.2C1593.9,627.0 1595.0,624.8 1596.2,622.5C1597.4,620.3 1598.6,617.2 1599.9,612.7C1601.1,608.2 1602.5,601.2 1603.6,595.5C1604.7,589.8 1605.7,581.4 1606.5,578.3C1607.3,575.2 1607.7,575.4 1608.5,577.1C1609.2,578.7 1610.1,582.2 1610.9,588.1C1611.8,594.1 1612.6,605.7 1613.4,612.7C1614.2,619.7 1614.8,626.6 1615.8,629.9C1616.9,633.2 1618.4,632.4 1619.5,632.4C1620.7,632.4 1621.8,632.0 1622.7,629.9C1623.7,627.9 1624.4,623.8 1625.2,620.1C1626.0,616.4 1626.8,610.3 1627.6,607.8C1628.5,605.3 1629.3,604.5 1630.1,605.3C1630.9,606.2 1631.7,607.4 1632.6,612.7C1633.5,618.0 1634.4,627.9 1635.5,637.3C1636.6,646.7 1638.0,658.6 1639.2,669.2C1640.4,679.9 1641.9,694.0 1642.9,701.2C1643.9,708.4 1644.1,710.0 1645.3,712.2C1646.6,714.5 1648.4,713.9 1650.3,714.7C1652.1,715.5 1654.3,715.7 1656.4,717.2C1658.4,718.6 1660.7,720.2 1662.5,723.3C1664.4,726.4 1666.0,730.7 1667.5,735.6C1668.9,740.5 1669.9,747.1 1671.1,752.8C1672.4,758.5 1673.8,765.1 1674.8,770.0C1675.9,774.9 1676.5,779.8 1677.3,782.3C1678.1,784.7 1678.9,786.0 1679.7,784.7C1680.6,783.5 1681.5,780.6 1682.2,774.9C1682.9,769.2 1683.3,758.5 1684.2,750.3C1685.0,742.1 1686.0,732.7 1687.1,725.8C1688.2,718.8 1689.6,713.5 1690.8,708.6C1692.0,703.6 1693.4,701.6 1694.5,696.3C1695.6,690.9 1696.4,684.4 1697.4,676.6C1698.5,668.8 1699.6,658.2 1700.6,649.6C1701.7,641.0 1702.8,632.4 1703.8,625.0C1704.9,617.6 1705.7,609.4 1706.8,605.3C1707.9,601.2 1708.8,601.4 1710.5,600.4C1712.1,599.4 1714.8,600.4 1716.6,599.2C1718.5,598.0 1720.0,596.1 1721.5,593.0C1723.1,590.0 1724.7,584.5 1725.9,580.8C1727.2,577.0 1727.9,572.3 1728.9,570.4C1729.9,568.6 1730.8,568.4 1731.8,569.7C1732.9,571.0 1733.9,574.8 1735.0,578.3C1736.2,581.8 1737.5,586.7 1738.7,590.6C1740.0,594.5 1741.3,600.0 1742.4,601.7C1743.6,603.3 1744.6,603.1 1745.6,600.4C1746.6,597.8 1747.7,591.4 1748.6,585.7C1749.5,579.9 1750.0,570.9 1751.0,566.0C1752.0,561.1 1753.3,558.4 1754.7,556.2C1756.1,553.9 1758.0,552.7 1759.6,552.5C1761.3,552.3 1763.1,552.9 1764.5,555.0C1766.0,557.0 1767.1,560.9 1768.2,564.8C1769.3,568.7 1770.1,575.0 1771.2,578.3C1772.2,581.6 1773.2,584.0 1774.4,584.4C1775.5,584.9 1776.7,582.8 1778.0,580.8C1779.4,578.7 1781.0,574.2 1782.5,572.2C1783.9,570.1 1785.4,568.3 1786.7,568.5C1787.9,568.7 1788.8,570.5 1789.8,573.4C1790.9,576.3 1791.7,583.0 1792.8,585.7C1793.9,588.3 1795.3,588.6 1796.5,589.4C1797.7,590.1 1798.6,589.3 1800.0,590.0C1801.4,590.6 1803.4,591.4 1804.9,593.2C1806.5,594.9 1808.0,597.5 1809.3,600.6C1810.6,603.6 1811.7,608.1 1812.8,611.6C1813.9,615.1 1814.4,619.6 1816.0,621.4C1817.5,623.3 1820.5,621.0 1822.1,622.7C1823.8,624.3 1824.6,627.4 1825.8,631.3C1827.0,635.2 1828.1,640.3 1829.5,646.0C1830.9,651.8 1832.9,659.5 1834.4,665.7C1836.0,671.8 1837.5,678.2 1838.8,682.9C1840.1,687.6 1841.0,692.1 1842.3,693.9C1843.6,695.8 1845.1,694.6 1846.7,693.9C1848.3,693.2 1849.8,689.8 1851.6,689.8C1853.5,689.8 1855.7,693.0 1857.8,693.9C1859.8,694.8 1862.1,695.8 1863.9,695.2C1865.7,694.6 1867.3,692.1 1868.8,690.3C1870.4,688.4 1871.8,684.5 1873.2,684.1C1874.7,683.7 1876.1,686.0 1877.4,687.8C1878.7,689.6 1879.7,693.3 1881.1,695.2C1882.5,697.0 1884.4,696.4 1886.0,698.9C1887.7,701.3 1889.3,706.2 1890.9,709.9C1892.6,713.6 1894.4,717.9 1895.8,721.0C1897.3,724.0 1898.3,726.7 1899.5,728.3C1900.8,730.0 1901.8,731.0 1903.2,730.8C1904.7,730.6 1906.3,729.0 1908.1,727.1C1910.0,725.3 1912.4,722.2 1914.3,719.7C1916.1,717.3 1917.6,714.6 1919.2,712.4C1920.8,710.1 1922.7,706.4 1924.1,706.2C1925.5,706.0 1926.4,709.3 1927.8,711.1C1929.2,713.0 1931.1,716.3 1932.7,717.3C1934.3,718.3 1936.2,718.9 1937.6,717.3C1939.1,715.6 1940.1,711.6 1941.3,707.5C1942.5,703.4 1943.8,696.4 1945.0,692.7C1946.2,689.0 1947.5,686.6 1948.7,685.3C1949.9,684.0 1951.3,683.2 1952.4,684.8C1953.5,686.5 1954.3,690.6 1955.3,695.2C1956.3,699.8 1957.4,707.7 1958.5,712.4C1959.7,717.1 1960.8,721.2 1962.2,723.4C1963.6,725.7 1965.5,726.1 1967.1,725.9C1968.8,725.7 1970.6,724.5 1972.0,722.2C1973.5,719.9 1974.6,716.5 1975.7,712.4C1976.9,708.3 1977.8,701.3 1978.9,697.6C1980.0,693.9 1981.1,691.7 1982.4,690.3C1983.6,688.8 1985.1,688.2 1986.3,689.0C1987.4,689.8 1988.3,691.7 1989.2,695.2C1990.1,698.6 1990.9,705.6 1991.7,709.9C1992.5,714.2 1993.2,719.1 1994.2,721.0C1995.1,722.8 1996.2,722.8 1997.1,721.0C1998.0,719.1 1998.7,713.8 1999.6,709.9C2000.4,706.0 2000.9,699.9 2002.0,697.6C2003.2,695.4 2005.0,696.2 2006.4,696.4C2007.9,696.6 2009.4,699.5 2010.9,698.9C2012.3,698.2 2013.5,695.4 2015.0,692.7C2016.6,690.0 2018.3,685.3 2020.0,682.9C2021.6,680.4 2023.4,678.2 2024.9,678.0C2026.3,677.8 2027.3,681.0 2028.6,681.7C2029.8,682.3 2031.0,683.3 2032.2,681.7C2033.5,680.0 2034.7,673.7 2035.9,671.8C2037.2,670.0 2038.4,669.8 2039.6,670.6C2040.8,671.4 2041.9,674.3 2043.3,676.7C2044.7,679.2 2046.6,682.9 2048.2,685.3C2049.9,687.8 2051.5,691.1 2053.1,691.5C2054.8,691.9 2056.0,690.1 2058.0,687.8C2060.1,685.5 2063.2,680.3 2065.2,677.5C2067.3,674.6 2068.5,672.5 2070.4,670.9C2072.4,669.4 2075.0,668.4 2077.0,668.3C2078.9,668.2 2080.5,668.8 2082.2,670.1C2083.9,671.4 2085.9,674.1 2087.4,676.2C2088.9,678.2 2090.0,681.2 2091.3,682.7C2092.6,684.2 2094.0,685.9 2095.3,685.3C2096.5,684.6 2097.6,681.2 2098.7,678.8C2099.7,676.4 2100.4,672.5 2101.8,670.9C2103.2,669.3 2105.4,670.0 2107.0,669.1C2108.7,668.2 2110.2,667.8 2111.7,665.7C2113.2,663.6 2114.8,659.2 2116.2,656.6C2117.5,654.0 2118.8,651.6 2120.1,650.0C2121.4,648.5 2122.7,647.2 2124.0,647.4C2125.3,647.6 2126.6,650.5 2127.9,651.3C2129.2,652.2 2130.5,653.0 2131.8,652.6C2133.1,652.3 2134.4,649.8 2135.7,649.3C2137.0,648.7 2138.1,648.5 2139.7,649.3C2141.2,650.0 2143.3,651.4 2144.9,654.0C2146.5,656.5 2147.9,661.4 2149.3,664.4C2150.8,667.4 2151.9,670.3 2153.5,672.2C2155.1,674.2 2157.1,674.4 2158.7,676.2C2160.3,677.9 2161.8,681.4 2163.2,682.7C2164.6,684.0 2165.9,684.6 2167.1,684.0C2168.3,683.3 2169.1,680.7 2170.2,678.8C2171.3,676.8 2172.4,673.1 2173.6,672.2C2174.8,671.4 2176.0,672.6 2177.5,673.5C2179.0,674.5 2181.0,676.5 2182.7,678.0C2184.5,679.4 2186.3,680.1 2188.0,682.2C2189.6,684.2 2191.1,686.9 2192.7,690.5C2194.2,694.1 2195.7,699.2 2197.1,703.6C2198.5,707.9 2199.9,713.6 2201.0,716.6C2202.2,719.7 2202.9,721.0 2204.2,721.9C2205.5,722.7 2207.4,720.5 2208.9,721.9C2210.3,723.2 2211.5,726.2 2212.8,729.7C2214.1,733.2 2215.4,738.6 2216.7,742.7C2218.0,746.9 2219.4,750.9 2220.6,754.5C2221.8,758.1 2223.4,762.6 2224.0,764.2" stroke="#64c4a6"/>
</g>
<line x1="1035" y1="1200" x2="1123.1" y2="1200" stroke="#4b5f63" stroke-width="10" stroke-linecap="round"/>
<text transform="translate(1133.66,1215.80) scale(0.9097,1)" font-size="55.1" stroke-width="1.0" >Russia</text>
<line x1="1660.9" y1="1200" x2="1749" y2="1200" stroke="#64c4a6" stroke-width="10" stroke-linecap="round"/>
<text transform="translate(1758.90,1215.80) scale(1.0552,1)" font-size="55.1" stroke-width="1.0" >WA</text>
<text transform="translate(63.10,101.30) scale(1.0330,1)" font-size="67.1" stroke-width="1.0" >Wheat</text>
<text transform="translate(286.98,101.30) scale(1.0791,1)" font-size="67.1" stroke-width="1.0" >price</text>
<text transform="translate(462.48,101.30) scale(0.9611,1)" font-size="67.1" stroke-width="1.0" >-</text>
<text transform="translate(502.24,101.30) scale(0.9328,1)" font-size="67.1" stroke-width="1.0" >Russia</text>
<text transform="translate(719.40,101.30) scale(0.9323,1)" font-size="67.1" stroke-width="1.0" >vs</text>
<text transform="translate(804.60,101.30) scale(1.0283,1)" font-size="67.1" stroke-width="1.0" >WA</text>
<text transform="translate(58.48,1250.50) scale(1.0120,1)" font-size="49.8" stroke-width="1.0" >Source:</text>
<text transform="translate(246.88,1250.50) scale(0.9724,1)" font-size="49.8" stroke-width="1.0" >Reuters</text>
<g transform="translate(2041,0) scale(0.15361)" fill="#1e1e1e">
<path fill-rule="evenodd" d="M740,710 C700,800 620,855 515,855 C385,855 285,760 285,630 C285,500 385,405 515,405 C650,405 745,500 745,635 C745,650 744,662 742,672 L425,672 C435,722 470,752 520,752 C560,752 590,738 610,713 Z M425,585 L608,585 C598,535 562,500 515,500 C468,500 435,535 425,585 Z"/>
<path fill-rule="evenodd" d="M778,415 L910,415 L912,478 C940,432 985,405 1045,405 C1170,405 1265,500 1265,630 C1265,760 1170,855 1045,855 C990,855 945,832 918,792 L918,1020 L778,1020 Z M1020,522 C962,522 917,568 917,630 C917,692 962,740 1020,740 C1080,740 1125,692 1125,630 C1125,568 1080,522 1020,522 Z"/>
<path d="M1297,248 L1703,248 L1568,478 C1655,488 1722,560 1722,655 C1722,770 1625,855 1500,855 C1380,855 1295,780 1285,665 L1418,665 C1425,710 1455,738 1500,738 C1548,738 1583,705 1583,660 C1583,615 1548,585 1495,585 L1352,585 L1478,372 L1297,372 Z"/>
</g>
</svg></body></html>
